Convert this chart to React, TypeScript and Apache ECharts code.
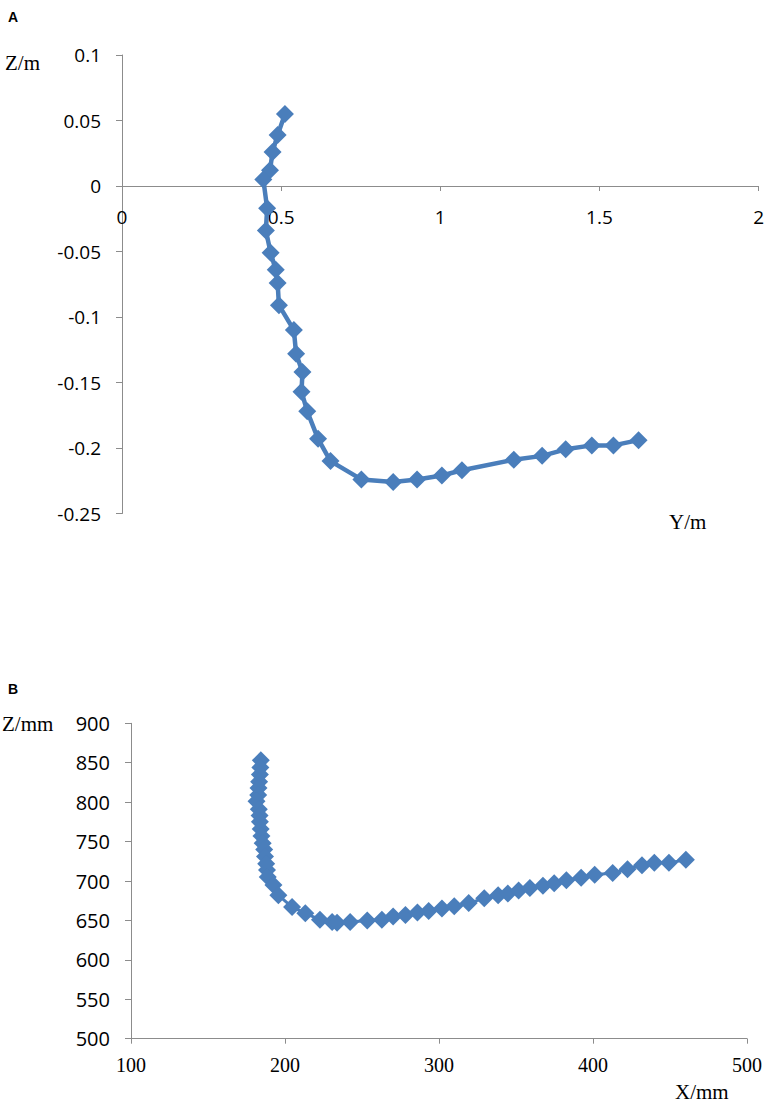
import React, { useEffect, useRef } from "react";
import * as echarts from "echarts";

// Panel A: trajectory, Y (m) vs Z (m)
const aY = [0.512, 0.489, 0.473, 0.465, 0.444, 0.456, 0.452, 0.467, 0.483, 0.489, 0.493, 0.54, 0.547, 0.567, 0.564, 0.582, 0.616, 0.655, 0.752, 0.852, 0.927, 1.005, 1.068, 1.231, 1.32, 1.394, 1.476, 1.544, 1.623];
const aZ = [0.055, 0.039, 0.026, 0.012, 0.005, -0.017, -0.034, -0.051, -0.064, -0.074, -0.091, -0.11, -0.128, -0.142, -0.157, -0.172, -0.193, -0.21, -0.224, -0.226, -0.224, -0.221, -0.217, -0.209, -0.206, -0.201, -0.198, -0.198, -0.194];

// Panel B: trajectory, X (mm) vs Z (mm)
const bX = [184.3, 184.0, 183.7, 183.2, 182.8, 182.6, 181.5, 183.0, 183.5, 183.7, 184.2, 184.7, 185.5, 186.5, 187.0, 187.8, 188.3, 188.8, 192.5, 195.7, 204.6, 213.2, 222.7, 230.6, 233.8, 242.3, 253.4, 262.9, 270.2, 278.2, 286.0, 293.3, 301.9, 309.9, 319.3, 329.4, 338.4, 344.7, 351.7, 359.0, 367.5, 374.8, 382.7, 392.3, 401.1, 412.8, 422.4, 431.8, 439.8, 449.3, 460.3];
const bZ = [853, 844, 835, 826, 818, 809, 801, 791, 783, 775, 766, 757, 748, 740, 731, 722, 714, 705, 695, 682, 667, 659, 651, 648, 647, 648, 650, 651, 655, 657, 660, 662, 665, 668, 672, 678, 682, 684, 688, 691, 694, 697, 701, 704, 708, 710, 715, 720, 723, 723, 727];

const axisA = { xMin: 0, xMax: 2, xStep: 0.5, yMin: -0.25, yMax: 0.1, yStep: 0.05 };
const axisB = { xMin: 100, xMax: 500, xStep: 100, yMin: 500, yMax: 900, yStep: 50 };

const COLOR = "#4A7EBB";
const AXIS_COLOR = "#8c8c8c";
const SANS = "'Open Sans', 'Noto Sans', sans-serif";
const SERIF = "'Liberation Serif', 'DejaVu Serif', serif";

const GRID_A = { left: 122, top: 55, width: 637, height: 458.5 };
const GRID_B = { left: 131, top: 723.3, width: 616, height: 315.4 };

export default function App() {
  const ref = useRef<HTMLDivElement>(null);

  useEffect(() => {
    if (!ref.current) return;
    const chart = echarts.init(ref.current, undefined, { renderer: "svg" });

    const axisLine = { show: true, onZero: false, lineStyle: { color: AXIS_COLOR, width: 1 } };
    const axisTick = { show: true, length: 5, lineStyle: { color: AXIS_COLOR, width: 1 } };

    // pixel distance from the bottom of grid A up to Z = 0
    const zeroOffsetA = -GRID_A.height * ((0 - axisA.yMin) / (axisA.yMax - axisA.yMin));

    const option: any = {
      animation: false,
      backgroundColor: "#ffffff",
      grid: [
        { ...GRID_A, containLabel: false },
        { ...GRID_B, containLabel: false },
      ],
      xAxis: [
        {
          type: "value",
          gridIndex: 0,
          position: "bottom",
          offset: zeroOffsetA,
          min: axisA.xMin,
          max: axisA.xMax,
          interval: axisA.xStep,
          axisLine,
          axisTick,
          splitLine: { show: false },
          axisLabel: { color: "#000", fontFamily: SANS, fontSize: 19, margin: 21 },
        },
        {
          type: "value",
          gridIndex: 1,
          min: axisB.xMin,
          max: axisB.xMax,
          interval: axisB.xStep,
          axisLine,
          axisTick,
          splitLine: { show: false },
          axisLabel: { color: "#000", fontFamily: SERIF, fontSize: 20, margin: 16 },
        },
      ],
      yAxis: [
        {
          type: "value",
          gridIndex: 0,
          min: axisA.yMin,
          max: axisA.yMax,
          interval: axisA.yStep,
          axisLine,
          axisTick: { ...axisTick, length: 6 },
          splitLine: { show: false },
          axisLabel: { color: "#000", fontFamily: SANS, fontSize: 19, margin: 21 },
        },
        {
          type: "value",
          gridIndex: 1,
          min: axisB.yMin,
          max: axisB.yMax,
          interval: axisB.yStep,
          axisLine,
          axisTick: { ...axisTick, length: 6 },
          splitLine: { show: false },
          axisLabel: { color: "#000", fontFamily: SANS, fontSize: 20, margin: 21 },
        },
      ],
      series: [
        {
          type: "line",
          xAxisIndex: 0,
          yAxisIndex: 0,
          data: aY.map((y, i) => [y, aZ[i]]),
          symbol: "diamond",
          symbolSize: 18,
          showAllSymbol: true,
          lineStyle: { color: COLOR, width: 4.5 },
          itemStyle: { color: COLOR },
        },
        {
          type: "line",
          xAxisIndex: 1,
          yAxisIndex: 1,
          data: bX.map((x, i) => [x, bZ[i]]),
          symbol: "diamond",
          symbolSize: 18,
          showAllSymbol: true,
          lineStyle: { color: COLOR, width: 3 },
          itemStyle: { color: COLOR },
        },
      ],
      graphic: [
        { type: "text", left: 8, top: 10, style: { text: "A", font: "bold 14px 'Liberation Sans', Arial, sans-serif", fill: "#000" } },
        { type: "text", left: 8, top: 682, style: { text: "B", font: "bold 14px 'Liberation Sans', Arial, sans-serif", fill: "#000" } },
        { type: "text", left: 5, top: 52, style: { text: "Z/m", font: `21px ${SERIF}`, fill: "#000" } },
        { type: "text", left: 669, top: 511, style: { text: "Y/m", font: `21px ${SERIF}`, fill: "#000" } },
        { type: "text", left: 2, top: 713, style: { text: "Z/mm", font: `21px ${SERIF}`, fill: "#000" } },
        { type: "text", left: 675, top: 1081, style: { text: "X/mm", font: `21px ${SERIF}`, fill: "#000" } },
      ],
    };

    chart.setOption(option);
    return () => chart.dispose();
  }, []);

  return (
    <div
      ref={ref}
      style={{ position: "absolute", left: 0, top: 0, width: 767, height: 1103, background: "#fff" }}
    />
  );
}
